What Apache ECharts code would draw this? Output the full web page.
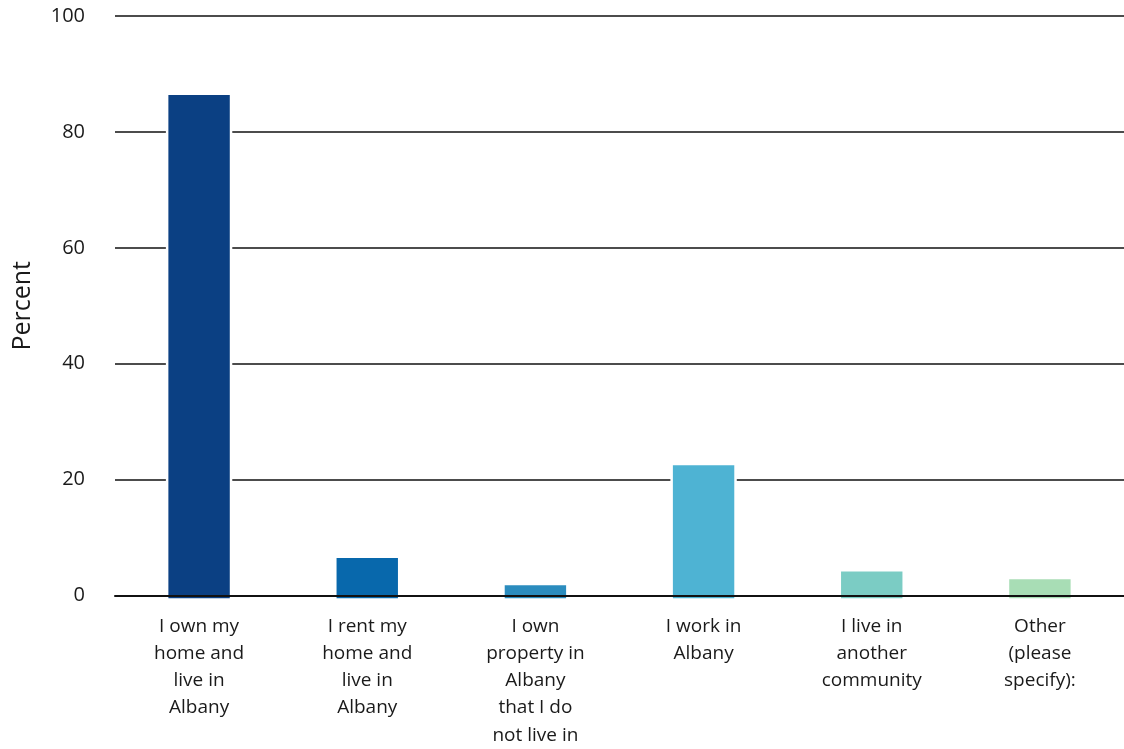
<!DOCTYPE html>
<html><head><meta charset="utf-8">
<script src="https://cdn.jsdelivr.net/npm/echarts@6/dist/echarts.min.js"></script>
<style>html,body{margin:0;padding:0;background:#fff}#c{width:1124px;height:749px}</style>
</head><body><div id="c"></div>
<script>
const categories = ["I own my\nhome and\nlive in\nAlbany", "I rent my\nhome and\nlive in\nAlbany", "I own\nproperty in\nAlbany\nthat I do\nnot live in", "I work in\nAlbany", "I live in\nanother\ncommunity", "Other\n(please\nspecify):"];
const values = [86.6, 6.7, 2.0, 22.7, 4.35, 3.0];
const colors = ["#0b4083", "#0868ac", "#2b8cbe", "#4eb3d3", "#7bccc4", "#a8ddb5"];
const yTicks = [0, 20, 40, 60, 80, 100];
const FONT = "Open Sans";
const chart = echarts.init(document.getElementById('c'));
chart.setOption({
  animation: false,
  grid: {left: 115, right: 0, top: 16, bottom: 151},
  xAxis: {
    type: 'category', data: categories, z: 5,
    axisLine: {show: true, lineStyle: {color: '#111', width: 2}},
    axisTick: {show: false},
    axisLabel: {color: '#1a1a1a', fontFamily: FONT, fontSize: 19, lineHeight: 27.3, margin: 17, interval: 0}
  },
  yAxis: {
    type: 'value', min: 0, max: 100, interval: 20,
    name: 'Percent', nameLocation: 'middle', nameGap: 80, nameRotate: 90,
    nameTextStyle: {color: '#1a1a1a', fontFamily: FONT, fontSize: 25},
    axisLine: {show: false}, axisTick: {show: false},
    axisLabel: {color: '#1a1a1a', fontFamily: FONT, fontSize: 20, margin: 30,
      formatter: v => yTicks.includes(v) ? String(v) : ''},
    splitLine: {lineStyle: {color: '#111', width: 1.5}}
  },
  series: [{
    type: 'custom',
    data: values.map((v, i) => [i, v]),
    encode: {x: 0, y: 1},
    renderItem: function (params, api) {
      const i = api.value(0);
      const top = api.coord([i, api.value(1)]);
      const base = api.coord([i, 0]);
      const w = api.size([1, 0])[0] * 0.38;
      return {
        type: 'rect',
        shape: {x: top[0] - w / 2, y: top[1], width: w, height: base[1] - top[1] + 4},
        style: {fill: colors[i], stroke: '#fff', lineWidth: 2.5}
      };
    }
  }]
});
</script></body></html>
